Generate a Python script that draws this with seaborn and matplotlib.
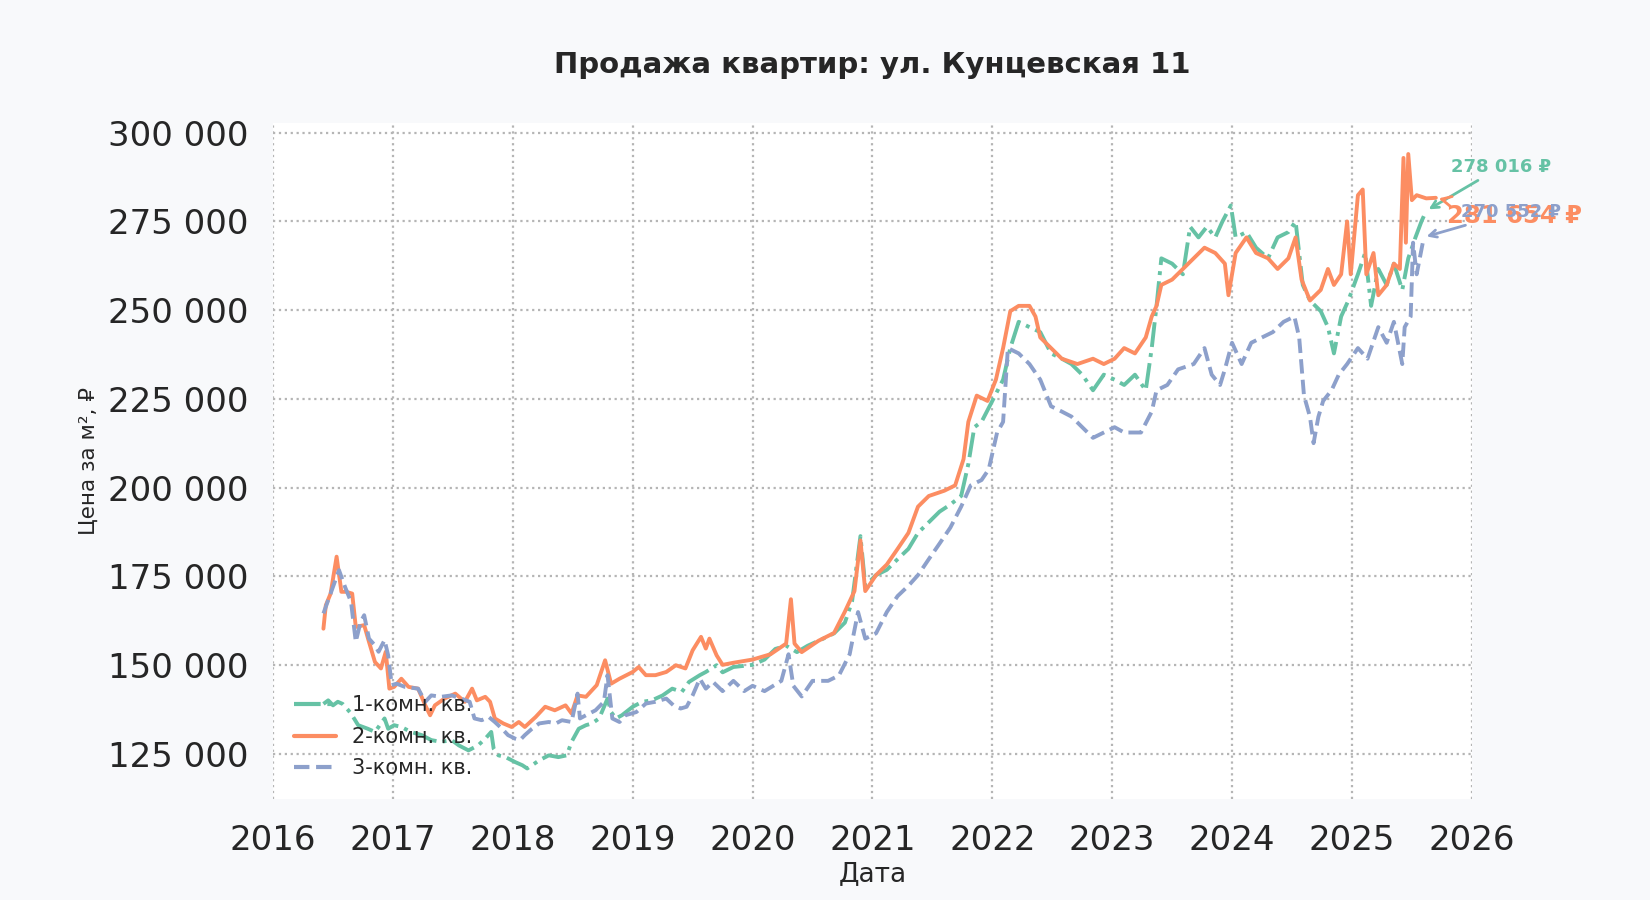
import pandas as pd
import matplotlib.pyplot as plt
import seaborn as sns

# values (date as decimal year, price per m2)
one_room_dates = [
    2016.42, 2016.46, 2016.50, 2016.54, 2016.58, 2016.62, 2016.65, 2016.71, 2016.79, 2016.85,
    2016.90, 2016.93, 2016.96, 2017.01, 2017.07, 2017.15, 2017.24, 2017.32, 2017.40, 2017.49,
    2017.55, 2017.63, 2017.71, 2017.77, 2017.82, 2017.84, 2017.88, 2017.94, 2018.02, 2018.08,
    2018.12, 2018.16, 2018.22, 2018.30, 2018.38, 2018.45, 2018.49, 2018.55, 2018.61, 2018.66,
    2018.72, 2018.79, 2018.82, 2018.86, 2018.91, 2019.00, 2019.08, 2019.16, 2019.25, 2019.33,
    2019.41, 2019.47, 2019.56, 2019.61, 2019.70, 2019.75, 2019.84, 2020.00, 2020.10, 2020.19,
    2020.28, 2020.37, 2020.46, 2020.59, 2020.68, 2020.77, 2020.83, 2020.90, 2020.94, 2021.03,
    2021.12, 2021.21, 2021.30, 2021.38, 2021.47, 2021.56, 2021.65, 2021.74, 2021.80, 2021.85,
    2021.91, 2022.00, 2022.09, 2022.15, 2022.22, 2022.31, 2022.40, 2022.49, 2022.58, 2022.66,
    2022.75, 2022.84, 2022.93, 2023.02, 2023.10, 2023.19, 2023.28, 2023.33, 2023.37, 2023.41,
    2023.50, 2023.59, 2023.65, 2023.72, 2023.79, 2023.86, 2023.92, 2023.99, 2024.03, 2024.12,
    2024.20, 2024.30, 2024.38, 2024.47, 2024.53, 2024.59, 2024.65, 2024.74, 2024.80, 2024.85,
    2024.91, 2024.97, 2025.05, 2025.11, 2025.16, 2025.22, 2025.29, 2025.35, 2025.42, 2025.47,
    2025.53, 2025.58, 2025.62,
]
one_room_prices = [
    139000, 140000, 138600, 139600, 139000, 137500, 136300, 133000, 132000, 131100,
    133500, 134900, 132000, 133000, 132500, 131100, 130200, 128800, 128300, 128800,
    127300, 125900, 127300, 129200, 131100, 126400, 124500, 124000, 122600, 121700,
    120800, 121700, 123100, 124500, 124000, 124500, 128300, 132000, 133000, 133500,
    134900, 140500, 136700, 134900, 135800, 138200, 139600, 140000, 141400, 143300,
    142400, 145200, 147100, 148000, 149900, 147900, 149400, 150000, 151500, 154500,
    155400, 153600, 155400, 157400, 158900, 161900, 167900, 186300, 172300, 175300,
    176800, 179800, 182700, 187200, 190200, 193200, 195200, 197600, 206600, 217000,
    218500, 224400, 230400, 239300, 246700, 245200, 243800, 237800, 236300, 234800,
    231800, 227400, 231800, 230400, 228900, 231800, 227400, 239300, 251200, 264600,
    263100, 260100, 273500, 270500, 273500, 270500, 275000, 279500, 270500, 272000,
    267600, 264600, 270500, 272000, 275000, 257100, 252700, 249700, 245200, 237800,
    248200, 252700, 260100, 266100, 251200, 261600, 257100, 263100, 255700, 264600,
    270500, 275000, 278016,
]

two_room_dates = [
    2016.42, 2016.44, 2016.48, 2016.53, 2016.57, 2016.61, 2016.66, 2016.69, 2016.76, 2016.80,
    2016.85, 2016.90, 2016.94, 2016.97, 2017.01, 2017.07, 2017.13, 2017.21, 2017.27, 2017.31,
    2017.35, 2017.43, 2017.52, 2017.60, 2017.66, 2017.70, 2017.77, 2017.81, 2017.85, 2017.92,
    2017.99, 2018.05, 2018.10, 2018.19, 2018.27, 2018.35, 2018.44, 2018.49, 2018.54, 2018.61,
    2018.70, 2018.77, 2018.82, 2018.89, 2019.00, 2019.05, 2019.11, 2019.19, 2019.28, 2019.36,
    2019.44, 2019.50, 2019.57, 2019.61, 2019.64, 2019.70, 2019.75, 2019.84, 2020.00, 2020.15,
    2020.28, 2020.32, 2020.35, 2020.41, 2020.55, 2020.68, 2020.77, 2020.85, 2020.90, 2020.94,
    2021.03, 2021.12, 2021.21, 2021.30, 2021.38, 2021.47, 2021.60, 2021.69, 2021.76, 2021.80,
    2021.87, 2021.96, 2022.03, 2022.09, 2022.15, 2022.22, 2022.31, 2022.36, 2022.40, 2022.49,
    2022.58, 2022.71, 2022.84, 2022.93, 2023.02, 2023.10, 2023.19, 2023.28, 2023.33, 2023.37,
    2023.41, 2023.50, 2023.59, 2023.68, 2023.77, 2023.86, 2023.94, 2023.97, 2024.03, 2024.12,
    2024.20, 2024.30, 2024.38, 2024.47, 2024.53, 2024.58, 2024.65, 2024.74, 2024.80, 2024.85,
    2024.91, 2024.96, 2024.99, 2025.05, 2025.09, 2025.12, 2025.18, 2025.22, 2025.29, 2025.35,
    2025.40, 2025.43, 2025.45, 2025.47, 2025.50, 2025.54, 2025.62, 2025.70,
]
two_room_prices = [
    160200, 166800, 170100, 180500, 170600, 170600, 170100, 160700, 161200, 156500,
    150800, 149000, 153700, 143300, 143800, 146100, 143800, 143300, 138600, 135800,
    138600, 140500, 141900, 139600, 143300, 140000, 141000, 139600, 134900, 133500,
    132500, 133900, 132500, 135300, 138200, 137200, 138600, 136300, 141400, 141000,
    144300, 151300, 144700, 146100, 148000, 149400, 147100, 147100, 148000, 149900,
    149000, 154100, 157900, 154600, 157400, 152700, 150000, 150600, 151500, 153000,
    156000, 168500, 156000, 153600, 156800, 159000, 165000, 170800, 185100, 170800,
    175300, 178300, 182700, 187200, 194600, 197600, 199100, 200600, 208000, 218500,
    225900, 224400, 230400, 239300, 249700, 251200, 251200, 248200, 242300, 239300,
    236300, 234800, 236300, 234800, 236300, 239300, 237800, 242300, 248200, 251200,
    257100, 258600, 261600, 264600, 267600, 266100, 263100, 254200, 266100, 270500,
    266100, 264600, 261600, 264600, 270500, 258600, 252700, 255700, 261600, 257100,
    260100, 275000, 260100, 282400, 284000, 260100, 266100, 254200, 257100, 263100,
    261600, 292900, 269000, 294000, 281000, 282400, 281500, 281654,
]

three_room_dates = [
    2016.42, 2016.48, 2016.55, 2016.60, 2016.65, 2016.68, 2016.69, 2016.73, 2016.76, 2016.80,
    2016.85, 2016.88, 2016.93, 2016.96, 2016.99, 2017.03, 2017.10, 2017.21, 2017.27, 2017.32,
    2017.40, 2017.49, 2017.57, 2017.64, 2017.68, 2017.74, 2017.80, 2017.85, 2017.91, 2017.96,
    2018.02, 2018.06, 2018.10, 2018.16, 2018.22, 2018.30, 2018.36, 2018.41, 2018.49, 2018.54,
    2018.56, 2018.61, 2018.69, 2018.76, 2018.79, 2018.83, 2018.89, 2018.94, 2019.03, 2019.11,
    2019.19, 2019.28, 2019.34, 2019.40, 2019.45, 2019.50, 2019.56, 2019.61, 2019.67, 2019.75,
    2019.84, 2019.93, 2020.00, 2020.10, 2020.24, 2020.30, 2020.34, 2020.41, 2020.50, 2020.63,
    2020.72, 2020.81, 2020.88, 2020.94, 2021.03, 2021.12, 2021.21, 2021.30, 2021.38, 2021.47,
    2021.56, 2021.65, 2021.74, 2021.82, 2021.91, 2021.97, 2022.04, 2022.09, 2022.13, 2022.22,
    2022.31, 2022.40, 2022.49, 2022.58, 2022.66, 2022.75, 2022.84, 2022.93, 2023.02, 2023.10,
    2023.24, 2023.33, 2023.37, 2023.46, 2023.55, 2023.68, 2023.77, 2023.83, 2023.90, 2023.94,
    2024.00, 2024.08, 2024.16, 2024.25, 2024.34, 2024.43, 2024.52, 2024.56, 2024.60, 2024.65,
    2024.68, 2024.72, 2024.76, 2024.83, 2024.89, 2024.96, 2025.05, 2025.13, 2025.22, 2025.29,
    2025.35, 2025.42, 2025.44, 2025.49, 2025.51, 2025.54, 2025.60,
]
three_room_prices = [
    164500, 170100, 176700, 172000, 167800, 159300, 156500, 162100, 164000, 157400,
    155500, 153700, 157000, 152700, 144300, 144700, 143800, 143300, 139600, 141400,
    141000, 141400, 140500, 139600, 134900, 134400, 135300, 133900, 132000, 130200,
    129200, 128800, 130200, 132000, 133500, 133900, 133500, 134400, 133900, 141900,
    134900, 135800, 137200, 139600, 147100, 134900, 133900, 135800, 136700, 139100,
    139600, 140500, 138600, 137700, 138200, 141400, 146100, 143300, 145200, 142600,
    145500, 142600, 144100, 142600, 145500, 153000, 144100, 141100, 145500, 145500,
    147000, 153000, 164900, 157400, 158900, 164900, 169400, 172300, 175300, 179800,
    184200, 188700, 194600, 200600, 202100, 205100, 215500, 218500, 239300, 237800,
    234800, 230400, 222900, 221400, 220000, 217000, 214000, 215500, 217000, 215500,
    215500, 221400, 227400, 228900, 233300, 234800, 239300, 231800, 228900, 233300,
    240800, 234800, 240800, 242300, 243800, 246700, 248200, 242300, 225900, 219900,
    212500, 219900, 224400, 227400, 231800, 234800, 239300, 236300, 245200, 240800,
    246700, 234800, 245200, 248200, 269000, 260100, 270552,
]

series_names = ["1-комн. кв.", "2-комн. кв.", "3-комн. кв."]
series_colors = ["#66c2a5", "#fc8d62", "#8da0cb"]
year_ticks = list(range(2016, 2027))
price_ticks = [125000, 150000, 175000, 200000, 225000, 250000, 275000, 300000]

df = pd.concat([
    pd.DataFrame({"date": one_room_dates, "price": one_room_prices, "type": series_names[0]}),
    pd.DataFrame({"date": two_room_dates, "price": two_room_prices, "type": series_names[1]}),
    pd.DataFrame({"date": three_room_dates, "price": three_room_prices, "type": series_names[2]}),
], ignore_index=True)

sns.set_style("whitegrid", {"grid.linestyle": ":", "grid.color": "#b5b5b5"})
plt.rcParams["font.family"] = ["DejaVu Sans"]

fig = plt.figure(figsize=(16.5, 9), dpi=100, facecolor="#f8f9fb")
ax = fig.add_axes([0.1655, 0.112, 0.7265, 0.751])
ax.set_facecolor("white")

sns.lineplot(
    data=df, x="date", y="price", hue="type", style="type",
    palette=dict(zip(series_names, series_colors)),
    dashes={series_names[0]: (6.4, 1.6, 1, 1.6), series_names[1]: "", series_names[2]: (3.7, 1.6)},
    linewidth=2.8, estimator=None, ax=ax,
)

ax.grid(True, linestyle=":", linewidth=1.6, color="#b5b5b5")
for s in ax.spines.values():
    s.set_visible(False)

ax.set_xlim(2016, 2026)
ax.set_xticks(year_ticks)
ax.set_xticklabels([str(y) for y in year_ticks])
ax.set_yticks(price_ticks)
ax.set_yticklabels([f"{v:,.0f}".replace(",", " ") for v in price_ticks])
ax.tick_params(axis="both", labelsize=24.5, length=0, pad=18, colors="#262626")

ax.set_xlabel("Дата", fontsize=19, color="#262626", labelpad=3)
ax.set_ylabel("Цена за м², ₽", fontsize=15.5, color="#262626", labelpad=6)
ax.set_title("Продажа квартир: ул. Кунцевская 11", fontsize=21, fontweight="bold",
             color="#262626", pad=36)

# last-value labels
last_points = [
    (one_room_dates[-1], one_room_prices[-1], (75, 44), 13),
    (two_room_dates[-1], two_room_prices[-1], (79, -18), 17.5),
    (three_room_dates[-1], three_room_prices[-1], (87, 25), 13),
]
for (x, y, off, fs), color in zip(last_points, series_colors):
    ax.annotate(f"{y:,.0f} ₽".replace(",", " "), xy=(x, y), xytext=off,
                textcoords="offset pixels", ha="center", va="center",
                fontsize=fs, fontweight="bold", color=color,
                arrowprops=dict(arrowstyle="->", color=color, lw=2),
                annotation_clip=False)

leg = ax.legend(loc="lower left", frameon=False, fontsize=15, handlelength=2.0,
                labelspacing=0.55, borderaxespad=0.6)
for line in leg.get_lines():
    line.set_linewidth(3)

fig.savefig("out.png", dpi=100, facecolor=fig.get_facecolor())
